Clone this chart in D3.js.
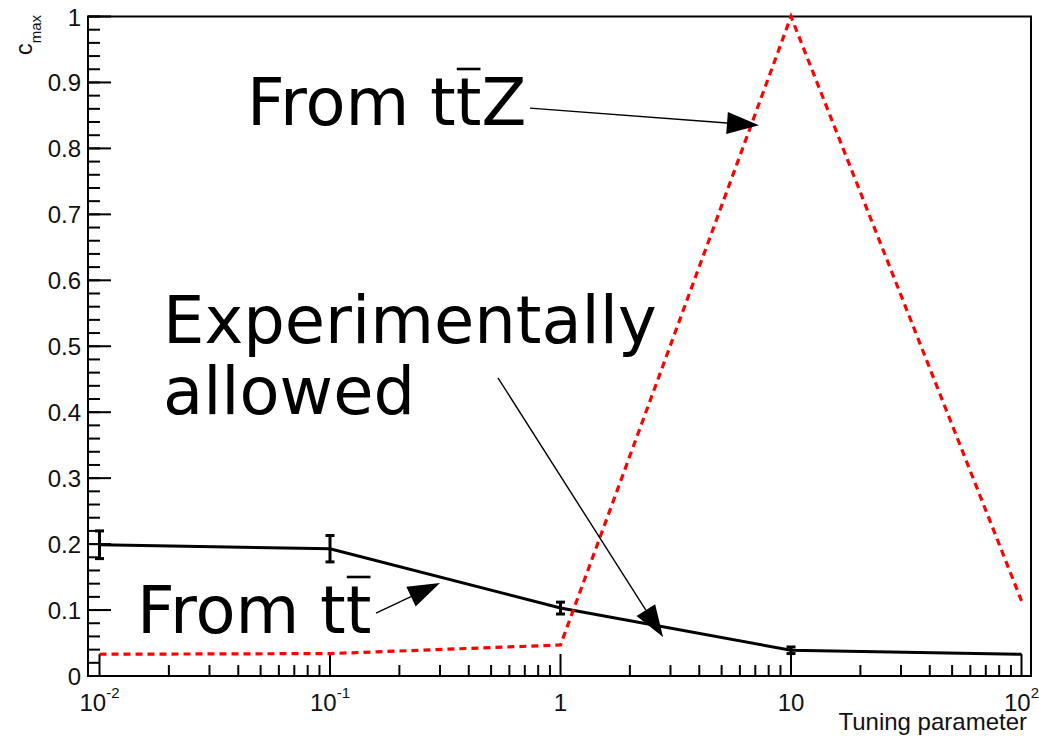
<!DOCTYPE html>
<html>
<head>
<meta charset="utf-8">
<script src="https://cdn.jsdelivr.net/npm/d3@7"></script>
<style>
  html, body { margin: 0; padding: 0; background: #fff; }
  svg { display: block; }
</style>
</head>
<body>
<svg id="chart" width="1039" height="736"></svg>
<script>
// Tuning parameter scan points (one per decade)
const tuning = [0.01, 0.1, 1, 10, 100];
// Experimentally allowed c_max (from tt̄), with its uncertainty
const allowedCmax = [0.199, 0.193, 0.103, 0.039, 0.033];
const allowedErr  = [0.021, 0.020, 0.009, 0.005, 0.0];
// c_max obtained from tt̄Z
const ttzCmax = [0.033, 0.034, 0.047, 1.0, 0.114];

const xTickValues = [0.01, 0.1, 1, 10, 100];
const xTickLabels = [["10", "-2"], ["10", "-1"], ["1", null], ["10", null], ["10", "2"]];
const yTickValues = [0, 0.1, 0.2, 0.3, 0.4, 0.5, 0.6, 0.7, 0.8, 0.9, 1];
const yTickLabels = ["0", "0.1", "0.2", "0.3", "0.4", "0.5", "0.6", "0.7", "0.8", "0.9", "1"];

const svg = d3.select("#chart");
const W = 1039, H = 736;
const frame = { left: 88, right: 1031, top: 16.5, bottom: 676 };

// Log axis slightly padded beyond the first/last decade
const x = d3.scaleLog()
  .domain([Math.pow(10, -2.0499), Math.pow(10, 2.0412)])
  .range([frame.left, frame.right]);
const y = d3.scaleLinear().domain([0, 1]).range([frame.bottom, frame.top]);

svg.append("rect").attr("width", W).attr("height", H).attr("fill", "#fff");

const axisFont = "'Liberation Sans', Arial, Helvetica, sans-serif";
const bigFont = "'DejaVu Sans', Verdana, sans-serif";
const bigSize = 65.5;

// ---- Frame ----
svg.append("rect")
  .attr("x", frame.left).attr("y", frame.top)
  .attr("width", frame.right - frame.left)
  .attr("height", frame.bottom - frame.top)
  .attr("fill", "none").attr("stroke", "#000").attr("stroke-width", 2);

// ---- Y axis ticks (pointing into the frame) ----
const yMinor = d3.range(0, 1.0001, 0.02);
const gy = svg.append("g");
gy.selectAll("line.minor").data(yMinor).join("line")
  .attr("x1", frame.left).attr("x2", frame.left + 12)
  .attr("y1", d => y(d)).attr("y2", d => y(d))
  .attr("stroke", "#000").attr("stroke-width", 2);
gy.selectAll("line.major").data(yTickValues).join("line")
  .attr("x1", frame.left).attr("x2", frame.left + 23)
  .attr("y1", d => y(d)).attr("y2", d => y(d))
  .attr("stroke", "#000").attr("stroke-width", 2);
gy.selectAll("text").data(yTickValues).join("text")
  .attr("x", frame.left - 7)
  .attr("y", d => y(d) + 9)
  .attr("text-anchor", "end")
  .attr("font-family", axisFont).attr("font-size", 24)
  .attr("fill", "#111")
  .text((d, i) => yTickLabels[i]);

// ---- X axis ticks (log) ----
const xMinor = [];
[-2, -1, 0, 1].forEach(e => {
  for (let m = 2; m <= 9; m++) xMinor.push(m * Math.pow(10, e));
});
const gx = svg.append("g");
gx.selectAll("line.minor").data(xMinor).join("line")
  .attr("x1", d => x(d)).attr("x2", d => x(d))
  .attr("y1", frame.bottom).attr("y2", frame.bottom - 11)
  .attr("stroke", "#000").attr("stroke-width", 2);
gx.selectAll("line.major").data(xTickValues).join("line")
  .attr("x1", d => x(d)).attr("x2", d => x(d))
  .attr("y1", frame.bottom).attr("y2", frame.bottom - 22)
  .attr("stroke", "#000").attr("stroke-width", 2);
const xl = gx.selectAll("text").data(xTickValues).join("text")
  .attr("x", d => x(d))
  .attr("y", frame.bottom + 35)
  .attr("text-anchor", "middle")
  .attr("font-family", axisFont).attr("font-size", 24)
  .attr("fill", "#111");
xl.each(function(d, i) {
  const [base, exp] = xTickLabels[i];
  const t = d3.select(this);
  t.append("tspan").text(base);
  if (exp) {
    t.append("tspan").attr("dy", -13).attr("font-size", 15).text(exp);
  }
});

// Axis titles
svg.append("text")
  .attr("x", 1027).attr("y", 730)
  .attr("text-anchor", "end")
  .attr("font-family", axisFont).attr("font-size", 24)
  .attr("fill", "#111")
  .text("Tuning parameter");

const yt = svg.append("text")
  .attr("transform", "translate(32,15) rotate(-90)")
  .attr("text-anchor", "end")
  .attr("font-family", axisFont).attr("font-size", 24)
  .attr("fill", "#111");
yt.append("tspan").text("c");
yt.append("tspan").attr("dy", 9).attr("font-size", 15).text("max");

// ---- Experimentally allowed (from tt̄): solid line with error bars ----
const pts = tuning.map((t, i) => ({ x: t, y: allowedCmax[i], e: allowedErr[i] }));
const line = d3.line().x(d => x(d.x)).y(d => y(d.y));
svg.append("path")
  .datum(pts)
  .attr("d", line)
  .attr("fill", "none").attr("stroke", "#000").attr("stroke-width", 3);

const eb = svg.append("g").attr("stroke", "#000").attr("stroke-width", 3);
pts.filter(d => d.e > 0).forEach(d => {
  const cx = x(d.x), y0 = y(d.y - d.e), y1 = y(d.y + d.e);
  eb.append("line").attr("x1", cx).attr("x2", cx).attr("y1", y0).attr("y2", y1);
  eb.append("line").attr("x1", cx - 4.5).attr("x2", cx + 4.5).attr("y1", y0).attr("y2", y0);
  eb.append("line").attr("x1", cx - 4.5).attr("x2", cx + 4.5).attr("y1", y1).attr("y2", y1);
});

// ---- From tt̄Z: red dashed line ----
const ttz = tuning.map((t, i) => ({ x: t, y: ttzCmax[i] }));
svg.append("path")
  .datum(ttz)
  .attr("d", line)
  .attr("fill", "none").attr("stroke", "#ff0000").attr("stroke-width", 3.2)
  .attr("stroke-dasharray", "7,5");

// ---- Annotations ----
function label(lines, px, py, lineGap) {
  const t = svg.append("text")
    .attr("font-family", bigFont).attr("font-size", bigSize).attr("fill", "#000");
  lines.forEach((s, i) => {
    t.append("tspan").attr("x", px).attr("y", py + i * lineGap).text(s);
  });
  return t;
}

// Text with a bar over the character at index barIdx
function barredLabel(str, barIdx, px, py) {
  const t = svg.append("text")
    .attr("x", px).attr("y", py)
    .attr("font-family", bigFont).attr("font-size", bigSize).attr("fill", "#000")
    .text(str);
  const node = t.node();
  const x0 = px + node.getSubStringLength(0, barIdx);
  const w = node.getSubStringLength(barIdx, 1);
  svg.append("line")
    .attr("x1", x0 + 1).attr("x2", x0 + w - 1)
    .attr("y1", py - 56).attr("y2", py - 56)
    .attr("stroke", "#000").attr("stroke-width", 2.6);
}

barredLabel("From ttZ", 6, 247, 125);
barredLabel("From tt", 6, 137, 633);
label(["Experimentally", "allowed"], 163, 343, 71);

// Arrows (endpoints in data coordinates)
const arrows = [
  { from: [0.7375, 0.861], to: [7.26, 0.835] },
  { from: [0.1583, 0.0955], to: [0.300, 0.141] },
  { from: [0.5356, 0.452], to: [2.785, 0.059] }
];
const headLen = 32, headHalf = 11;
arrows.forEach(a => {
  const x1 = x(a.from[0]), y1 = y(a.from[1]);
  const x2 = x(a.to[0]), y2 = y(a.to[1]);
  const ang = Math.atan2(y2 - y1, x2 - x1);
  const bx = x2 - headLen * Math.cos(ang), by = y2 - headLen * Math.sin(ang);
  svg.append("line")
    .attr("x1", x1).attr("y1", y1).attr("x2", bx).attr("y2", by)
    .attr("stroke", "#000").attr("stroke-width", 1.4);
  const px = -Math.sin(ang), py = Math.cos(ang);
  svg.append("path")
    .attr("d", `M${x2},${y2}L${bx + px * headHalf},${by + py * headHalf}L${bx - px * headHalf},${by - py * headHalf}Z`)
    .attr("fill", "#000");
});
</script>
</body>
</html>
